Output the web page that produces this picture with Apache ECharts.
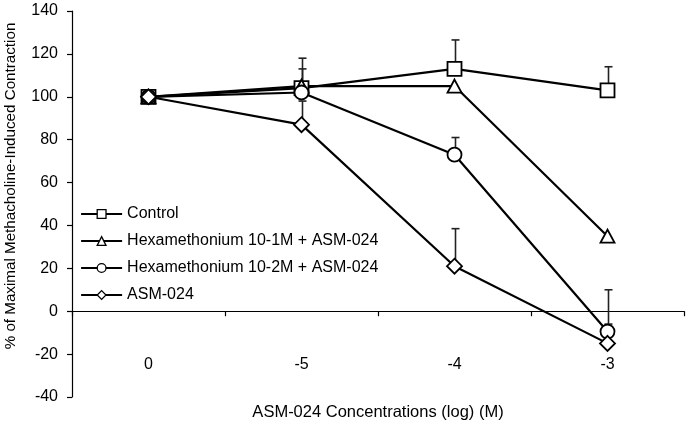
<!DOCTYPE html>
<html>
<head>
<meta charset="utf-8">
<script src="https://cdn.jsdelivr.net/npm/echarts@6/dist/echarts.min.js"></script>
<style>
html,body{margin:0;padding:0;background:#fff;}
#c{width:690px;height:426px;}
</style>
</head>
<body>
<div id="c"></div>
<script>
var categories = ['0', '-5', '-4', '-3'];
var seriesNames = ['Control', 'Hexamethonium 10-1M + ASM-024', 'Hexamethonium 10-2M + ASM-024', 'ASM-024'];
var control = [100, 104, 113, 103];
var controlErr = [0, 14, 13.5, 11];
var hexa1 = [100, 105, 105, 35];
var hexa1Err = [0, 8, 0, 0];
var hexa2 = [100, 102, 73, -9.5];
var hexa2Err = [0, 0, 8, 19.5];
var asm = [100, 87, 21, -15];
var asmErr = [0, 11, 17.5, 9];
var yTicks = [-40, 140, 20];

var values = [control, hexa1, hexa2, asm];
var errs = [controlErr, hexa1Err, hexa2Err, asmErr];
var symbols = ['rect', 'triangle', 'circle', 'diamond'];
var sizes = [14, [14, 13], 14, 15];

var FONT = 'Liberation Sans, Arial, sans-serif';
var chart = echarts.init(document.getElementById('c'));

var series = [];
values.forEach(function (vals, i) {
  var errData = vals.map(function (v, k) { return [k, v, v + errs[i][k]]; }).filter(function (d, k) { return errs[i][k] > 0; });
  series.push({
    type: 'custom',
    name: seriesNames[i] + ' err',
    xAxisIndex: 0,
    yAxisIndex: 0,
    z: 1,
    silent: true,
    data: errData,
    renderItem: function (params, api) {
      var p0 = api.coord([api.value(0), api.value(1)]);
      var p1 = api.coord([api.value(0), api.value(2)]);
      var x = Math.round(p0[0]) + 0.5;
      var cw = 4;
      return {
        type: 'group',
        children: [
          { type: 'line', shape: { x1: x, y1: p0[1], x2: x, y2: p1[1] }, style: { stroke: '#222', lineWidth: 1.6 } },
          { type: 'line', shape: { x1: x - cw, y1: p1[1], x2: x + cw, y2: p1[1] }, style: { stroke: '#222', lineWidth: 1.6 } }
        ]
      };
    },
    encode: { x: 0, y: [1, 2] }
  });
});
values.forEach(function (vals, i) {
  series.push({
    type: 'line',
    name: seriesNames[i],
    data: vals,
    xAxisIndex: 0,
    yAxisIndex: 0,
    z: 3,
    symbol: symbols[i],
    symbolSize: sizes[i],
    showAllSymbol: true,
    lineStyle: { color: '#000', width: 2.2 },
    itemStyle: { color: '#fff', borderColor: '#000', borderWidth: 1.8 },
    emphasis: { disabled: true },
    animation: false
  });
});

chart.setOption({
  animation: false,
  backgroundColor: '#fff',
  grid: { left: 72, right: 6, top: 11, bottom: 28, containLabel: false },
  legend: {
    orient: 'vertical',
    left: 80,
    top: 206,
    padding: 0,
    itemGap: 11,
    itemWidth: 41,
    itemHeight: 11,
    data: seriesNames,
    textStyle: { fontFamily: FONT, fontSize: 16, color: '#000', padding: [0, 0, 0, 0] },
    itemStyle: { color: '#fff', borderColor: '#000', borderWidth: 1.3 },
    lineStyle: { color: '#000', width: 2.2 }
  },
  xAxis: [
    {
      type: 'category',
      data: categories,
      boundaryGap: true,
      axisLine: { onZero: true, lineStyle: { color: '#000', width: 1.2 } },
      axisTick: { show: true, length: 5, inside: false, lineStyle: { color: '#000', width: 1.2 } },
      axisLabel: { show: false },
      splitLine: { show: false }
    },
    {
      type: 'category',
      data: categories,
      boundaryGap: true,
      position: 'bottom',
      offset: -48,
      axisLine: { show: false },
      axisTick: { show: false },
      axisLabel: { show: true, margin: 8, fontFamily: FONT, fontSize: 16, color: '#000' },
      name: 'ASM-024 Concentrations (log) (M)',
      nameLocation: 'middle',
      nameGap: 55,
      nameTextStyle: { fontFamily: FONT, fontSize: 16.5, color: '#000' }
    }
  ],
  yAxis: {
    type: 'value',
    min: yTicks[0],
    max: yTicks[1],
    interval: yTicks[2],
    axisLine: { show: true, lineStyle: { color: '#000', width: 1.2 } },
    axisTick: { show: true, length: 5, lineStyle: { color: '#000', width: 1.2 } },
    axisLabel: { margin: 14, fontFamily: FONT, fontSize: 16, color: '#000' },
    splitLine: { show: false }
  },
  graphic: [{
    type: 'text',
    x: 11,
    y: 186,
    rotation: Math.PI / 2,
    style: {
      text: '% of Maximal Methacholine-Induced Contraction',
      font: '15.2px ' + FONT,
      fill: '#000',
      align: 'center',
      verticalAlign: 'middle'
    }
  }],
  series: series
});
</script>
</body>
</html>
